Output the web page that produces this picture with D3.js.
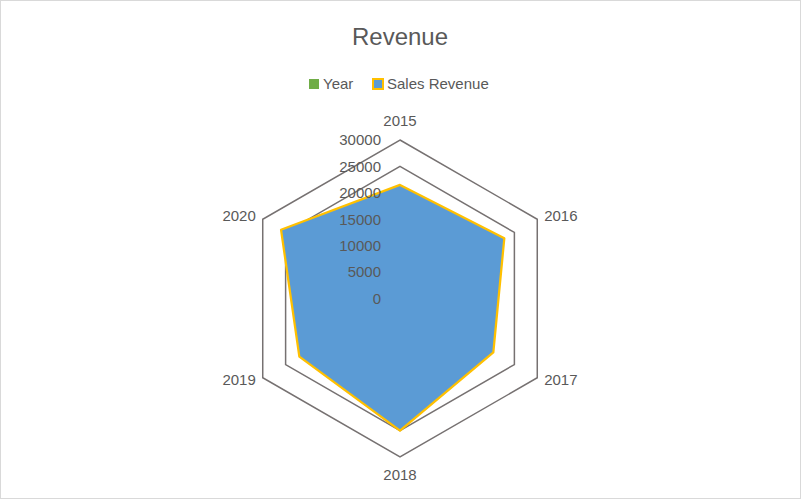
<!DOCTYPE html>
<html>
<head>
<meta charset="utf-8">
<script src="https://cdn.jsdelivr.net/npm/d3@7"></script>
<style>
  body { margin: 0; background: #fff; }
  text { font-family: "Liberation Sans", Arial, sans-serif; fill: #595959; }
</style>
</head>
<body>
<div id="my_radar"></div>
<script>
// chart data
const years = ["2015", "2016", "2017", "2018", "2019", "2020"];
const yearValues = [2015, 2016, 2017, 2018, 2019, 2020];
const salesRevenue = [21500, 22800, 20400, 25000, 22000, 26000];
const ticks = [0, 5000, 10000, 15000, 20000, 25000, 30000];

const width = 801, height = 499;
const cx = 400, cy = 298.5, R = 158.5;

const svg = d3.select("#my_radar")
  .append("svg")
    .attr("width", width)
    .attr("height", height);

// chart border
svg.append("rect")
  .attr("x", 0.5).attr("y", 0.5)
  .attr("width", width - 1).attr("height", height - 1)
  .attr("fill", "#fff")
  .attr("stroke", "#d9d9d9");

const r = d3.scaleLinear().domain([0, 30000]).range([0, R]);
const angle = i => i * 2 * Math.PI / years.length;

const radar = d3.lineRadial()
  .angle((d, i) => angle(i))
  .radius(d => r(d))
  .curve(d3.curveLinearClosed);

const g = svg.append("g").attr("transform", `translate(${cx}, ${cy})`);

// grid hexagons
g.selectAll(".grid")
  .data(ticks.slice(1))
  .enter()
  .append("path")
    .attr("class", "grid")
    .attr("d", t => radar(years.map(() => t)))
    .attr("fill", "none")
    .attr("stroke", "#767171")
    .attr("stroke-width", 1.5);

// Year series (sits under the sales series)
g.append("path")
  .attr("d", radar(yearValues))
  .attr("fill", "#70ad47")
  .attr("stroke", "#70ad47");

// Sales revenue series
g.append("path")
  .attr("d", radar(salesRevenue))
  .attr("fill", "#5b9bd5")
  .attr("stroke", "#ffc000")
  .attr("stroke-width", 2.25)
  .attr("stroke-linejoin", "round");

// value axis labels
g.selectAll(".tick-label")
  .data(ticks)
  .enter()
  .append("text")
    .attr("class", "tick-label")
    .attr("x", -19)
    .attr("y", t => -r(t))
    .attr("dy", "0.35em")
    .attr("text-anchor", "end")
    .style("font-size", "15px")
    .text(t => t);

// category labels
g.selectAll(".cat-label")
  .data(years)
  .enter()
  .append("text")
    .attr("class", "cat-label")
    .attr("x", (d, i) => {
      const s = Math.sin(angle(i));
      return Math.abs(s) < 0.01 ? 0 : (R + 8) * s;
    })
    .attr("y", (d, i) => {
      const c = Math.cos(angle(i));
      if (c > 0.99) return -R - 19;
      if (c < -0.99) return R + 18;
      return -R * c + (c > 0 ? -4 : 2);
    })
    .attr("dy", "0.35em")
    .attr("text-anchor", (d, i) => {
      const s = Math.sin(angle(i));
      return Math.abs(s) < 0.01 ? "middle" : (s > 0 ? "start" : "end");
    })
    .style("font-size", "15px")
    .text(d => d);

// title
svg.append("text")
  .attr("x", 400)
  .attr("y", 45)
  .attr("text-anchor", "middle")
  .style("font-size", "24px")
  .text("Revenue");

// legend
const legendItems = [
  {name: "Year", fill: "#70ad47", stroke: "none", x: 309},
  {name: "Sales Revenue", fill: "#5b9bd5", stroke: "#ffc000", x: 373}
];
const legend = svg.selectAll(".legend")
  .data(legendItems)
  .enter()
  .append("g")
    .attr("class", "legend")
    .attr("transform", d => `translate(${d.x}, 84)`);
legend.append("rect")
  .attr("x", 0).attr("y", -5)
  .attr("width", 10).attr("height", 10)
  .attr("fill", d => d.fill)
  .attr("stroke", d => d.stroke)
  .attr("stroke-width", 2);
legend.append("text")
  .attr("x", 14)
  .attr("dy", "0.35em")
  .style("font-size", "15px")
  .text(d => d.name);
</script>
</body>
</html>
